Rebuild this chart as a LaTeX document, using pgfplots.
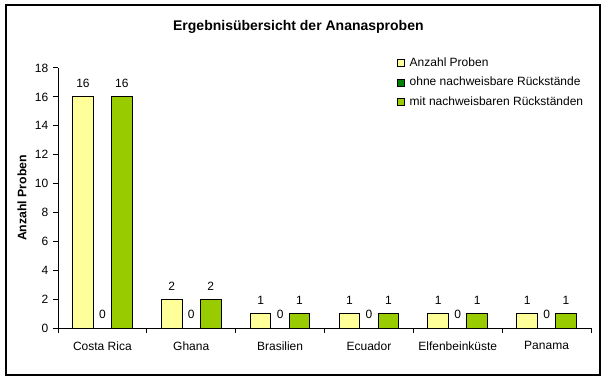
\documentclass[border=0pt]{standalone}
\usepackage{fontspec}
\setmainfont{Liberation Sans}
\usepackage{pgfplots}
\pgfplotsset{compat=1.18}
\definecolor{cYel}{HTML}{FFFF99}
\definecolor{cDark}{HTML}{008000}
\definecolor{cGreen}{HTML}{99CC00}
\begin{document}
\begin{tikzpicture}
\path (0,0) rectangle (453.75pt,286.5pt);
\draw[black, line width=0.9pt] (4.5pt,5.25pt) rectangle (450pt,282.75pt);
\begin{axis}[
  at={(43.5pt,40.5pt)}, anchor=south west,
  scale only axis, width=399.75pt, height=195pt,
  xmin=-0.5, xmax=5.5, ymin=0, ymax=18,
  ytick={0,2,...,18},
  xtick={0,...,5},
  xticklabels={Costa Rica,Ghana,Brasilien,Ecuador,Elfenbeinküste,Panama},
  minor xtick={-0.5,0.5,...,5.5},
  major x tick style={draw=none},
  tick align=outside,
  major tick length=3.75pt, minor tick length=3.75pt,
  axis x line*=bottom, axis y line*=left,
  axis line style={line width=0.75pt},
  every tick/.style={black, line width=0.75pt},
  tick label style={font=\fontsize{9}{10}\selectfont},
  /pgf/number format/assume math mode=true,
  xticklabel style={yshift=-3pt},
  ybar, bar width=15.5pt,
  ylabel={Anzahl Proben},
  every axis y label/.style={at={(axis description cs:-0.0675,0.5)}, rotate=90, anchor=center, font=\bfseries\fontsize{9.2}{10}\selectfont},
  title={Ergebnisübersicht der Ananasproben},
  every axis title/.style={at={(axis description cs:0.451,1.157)}, anchor=center, font=\bfseries\fontsize{10.5}{12}\selectfont},
  nodes near coords,
  every node near coord/.append style={font=\fontsize{9}{10}\selectfont, yshift=3pt, /pgf/number format/assume math mode=true},
  legend style={at={(axis description cs:0.636,1.045)}, anchor=north west, draw=none, fill=none,
    font=\fontsize{9}{10}\selectfont, row sep=4.5pt, inner sep=0pt,
    nodes={inner sep=1pt},
    /tikz/every odd column/.append style={column sep=2.5pt}},
  legend cell align=left,
  legend image code/.code={\draw[#1, line width=0.6pt, draw=black] (0pt,-2.6pt) rectangle (5.25pt,2.6pt);},
]
\addplot[fill=cYel, draw=black, line width=0.75pt, bar shift=-14.6pt] coordinates {(0,16) (1,2) (2,1) (3,1) (4,1) (5,1)};
\addplot[fill=cDark, draw=black, line width=0.75pt, bar shift=0pt] coordinates {(0,0) (1,0) (2,0) (3,0) (4,0) (5,0)};
\addplot[fill=cGreen, draw=black, line width=0.75pt, bar shift=14.6pt] coordinates {(0,16) (1,2) (2,1) (3,1) (4,1) (5,1)};
\legend{Anzahl Proben, ohne nachweisbare Rückstände, mit nachweisbaren Rückständen}
\end{axis}
\end{tikzpicture}
\end{document}
